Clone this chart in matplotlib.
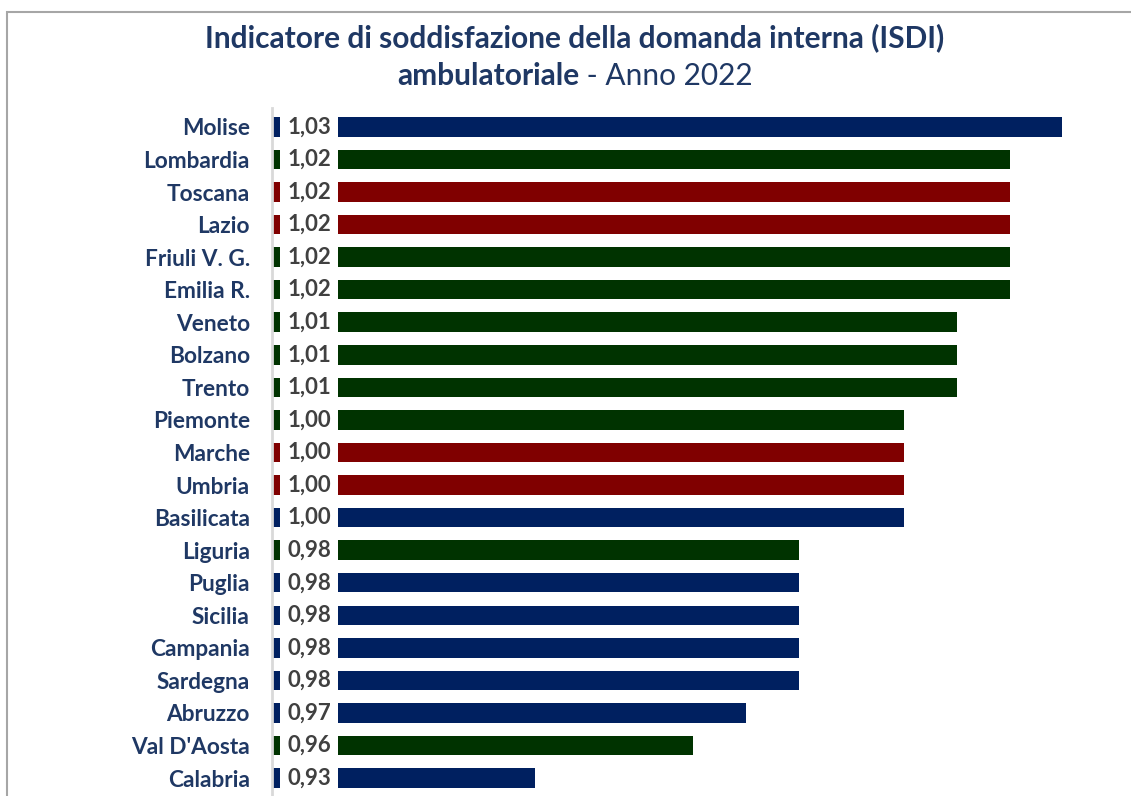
import matplotlib.pyplot as plt
from matplotlib.patches import Rectangle

regioni = ["Molise", "Lombardia", "Toscana", "Lazio", "Friuli V. G.", "Emilia R.",
           "Veneto", "Bolzano", "Trento", "Piemonte", "Marche", "Umbria",
           "Basilicata", "Liguria", "Puglia", "Sicilia", "Campania", "Sardegna",
           "Abruzzo", "Val D'Aosta", "Calabria"]
isdi = [1.03, 1.02, 1.02, 1.02, 1.02, 1.02,
        1.01, 1.01, 1.01, 1.00, 1.00, 1.00,
        1.00, 0.98, 0.98, 0.98, 0.98, 0.98,
        0.97, 0.96, 0.93]
# ripartizione: N = nord, C = centro, S = sud e isole
area = ["S", "N", "C", "C", "N", "N",
        "N", "N", "N", "N", "C", "C",
        "S", "N", "S", "S", "S", "S",
        "S", "N", "S"]

colori_area = {"N": "#003300", "C": "#800000", "S": "#002060"}
blu_testo = "#1F3864"
grigio_val = "#404040"

W, H = 1131, 796
fig = plt.figure(figsize=(W / 100, H / 100), dpi=100)
plt.rcParams['font.family'] = ['Lato', 'DejaVu Sans']

# area del grafico in pixel
x0, x1 = 272, 1115
y_top, y_bot = 108, 796
ax = fig.add_axes([x0 / W, 1 - y_bot / H, (x1 - x0) / W, (y_bot - y_top) / H])

xmin, xmax = 0.88, 1.04
px = (xmax - xmin) / (x1 - x0)   # unita' di dato per pixel
pos = list(range(len(regioni)))
ax.barh(pos, [v - xmin for v in isdi], left=xmin, height=0.6,
        color=[colori_area[a] for a in area])
# fondo bianco delle etichette dei valori (alla base delle barre)
lab_l, lab_r = xmin + 8 * px, xmin + 66 * px
ax.barh(pos, lab_r - lab_l, left=lab_l, height=0.64, color="white")
ax.set_xlim(xmin, xmax)
ax.set_ylim(len(regioni) - 0.45, -0.58)

for p, v in zip(pos, isdi):
    ax.text((lab_l + lab_r) / 2, p, f"{v:.2f}".replace(".", ","),
            ha="center", va="center", fontsize=16, fontweight="bold",
            color=grigio_val)

ax.set_yticks(pos)
ax.set_yticklabels(regioni, fontsize=16.3, fontweight="bold", color=blu_testo)
ax.tick_params(axis="y", length=0, pad=16)
ax.set_xticks([])
for s in ["top", "right", "bottom"]:
    ax.spines[s].set_visible(False)
ax.spines["left"].set_color("#D9D9D9")
ax.spines["left"].set_linewidth(2)

# cornice del grafico
fig.patches.append(Rectangle((7 / W, -0.1), 1.2, 1 - 12 / H + 0.1,
                             transform=fig.transFigure, fill=False,
                             ec="#A6A6A6", lw=1.5))

fig.text(575 / W, 1 - 38 / H, "Indicatore di soddisfazione della domanda interna (ISDI)",
         ha="center", va="center", fontsize=21.5, fontweight="bold", color=blu_testo)

# seconda riga del titolo: parte in grassetto + parte normale
fig.canvas.draw()
r = fig.canvas.get_renderer()
t1 = fig.text(0, 1 - 76 / H, "ambulatoriale", ha="left", va="center",
              fontsize=21.5, fontweight="bold", color=blu_testo)
t2 = fig.text(0, 1 - 76 / H, " - Anno 2022", ha="left", va="center",
              fontsize=21.5, color=blu_testo)
w1 = t1.get_window_extent(r).width
w2 = t2.get_window_extent(r).width
start = 575 - (w1 + w2) / 2
t1.set_x(start / W)
t2.set_x((start + w1) / W)

fig.savefig("out.png", dpi=100)
